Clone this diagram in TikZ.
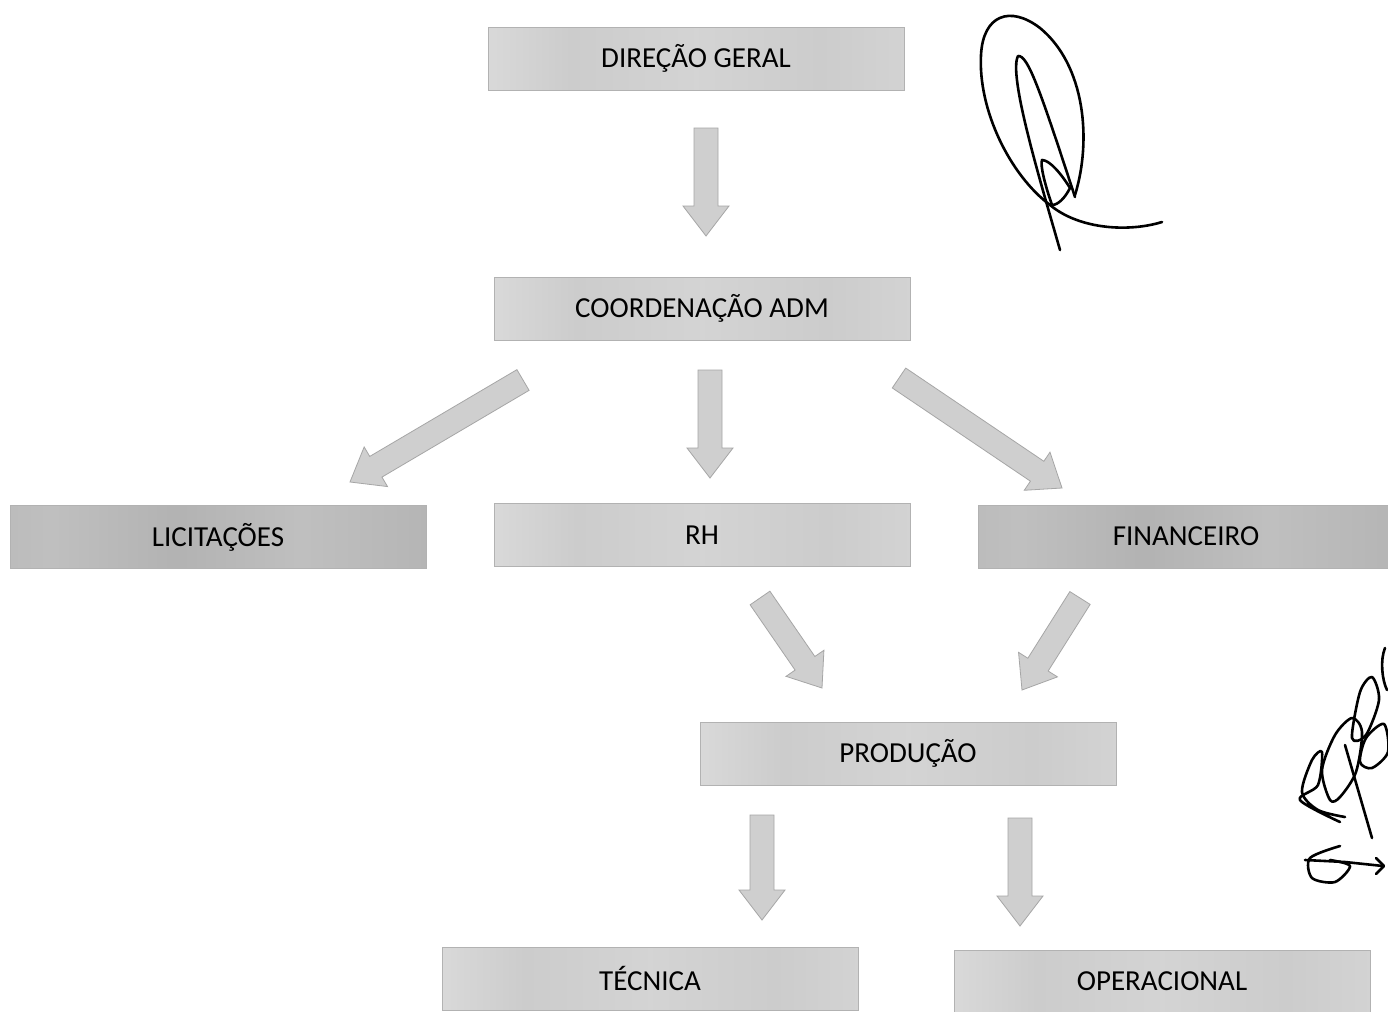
\documentclass[tikz,border=0pt]{standalone}
\usepackage{fontspec}
\setmainfont{Carlito}
\usetikzlibrary{calc}
\pgfdeclarehorizontalshading{boxlight}{100bp}{color(0bp)=(black!22); color(12bp)=(black!19); color(25bp)=(black!15); color(35bp)=(black!20); color(50bp)=(black!17); color(65bp)=(black!20); color(80bp)=(black!16); color(100bp)=(black!19)}
\pgfdeclarehorizontalshading{boxdark}{100bp}{color(0bp)=(black!33); color(15bp)=(black!29); color(30bp)=(black!25); color(45bp)=(black!30); color(60bp)=(black!25); color(75bp)=(black!29); color(90bp)=(black!26); color(100bp)=(black!30)}
\tikzset{
  orgbox/.style={draw=black!30, line width=0.4pt, shading=boxlight, minimum width=208pt, minimum height=31.5pt, inner sep=0pt, font=\fontsize{14.5}{16}\selectfont},
  orgdark/.style={orgbox, shading=boxdark},
  blk/.style={draw=black!35, fill=black!19, line width=0.4pt},
  sig/.style={line width=1.3pt, line cap=round, line join=round}
}
\newcommand\blkarrow[2]{%
  \coordinate (hb) at ($(#2)!15pt!(#1)$);
  \path[blk] ($(#1)!6pt!90:(#2)$) -- ($(hb)!6pt!90:(#2)$) -- ($(hb)!11.5pt!90:(#2)$) -- (#2)
    -- ($(hb)!11.5pt!-90:(#2)$) -- ($(hb)!6pt!-90:(#2)$) -- ($(#1)!6pt!-90:(#2)$) -- cycle;}
\begin{document}
\begin{tikzpicture}[x=0.5pt,y=-0.5pt]
\useasboundingbox[fill=white] (0,0) rectangle (1388,1012);
% boxes
\node[orgbox]  (dg)   at (696,58.5)  {DIREÇÃO GERAL};
\node[orgbox]  (ca)   at (702,308.5) {COORDENAÇÃO ADM};
\node[orgdark] (lic)  at (218,537)   {LICITAÇÕES};
\node[orgbox]  (rh)   at (702,535)   {RH};
\node[orgdark] (fin)  at (1186,536.5){FINANCEIRO};
\node[orgbox]  (prod) at (908,753.5) {PRODUÇÃO};
\node[orgbox]  (tec)  at (650,978.5) {TÉCNICA};
\node[orgbox]  (oper) at (1162,981.5){OPERACIONAL};
% arrow end points
\coordinate (a1s) at (706,128);  \coordinate (a1e) at (706,236);
\coordinate (a2s) at (523,380);  \coordinate (a2e) at (350,482);
\coordinate (a3s) at (710,370);  \coordinate (a3e) at (710,478);
\coordinate (a4s) at (899,378);  \coordinate (a4e) at (1062,488);
\coordinate (a5s) at (760,598);  \coordinate (a5e) at (822,688);
\coordinate (a6s) at (1080,598); \coordinate (a6e) at (1022,690);
\coordinate (a7s) at (762,815);  \coordinate (a7e) at (762,920);
\coordinate (a8s) at (1020,818); \coordinate (a8e) at (1020,926);
\blkarrow{a1s}{a1e}
\blkarrow{a2s}{a2e}
\blkarrow{a3s}{a3e}
\blkarrow{a4s}{a4e}
\blkarrow{a5s}{a5e}
\blkarrow{a6s}{a6e}
\blkarrow{a7s}{a7e}
\blkarrow{a8s}{a8e}
% signature 1
\draw[sig] (1075,195) .. controls (1092,140) and (1085,65) .. (1040,28)
  .. controls (1010,5) and (983,15) .. (981,55)
  .. controls (978,110) and (1010,175) .. (1050,205)
  .. controls (1080,230) and (1130,232) .. (1162,222);
\draw[sig] (1060,250) .. controls (1040,180) and (1008,75) .. (1018,56)
  .. controls (1028,55) and (1040,90) .. (1075,197);
\draw[sig] (1052,205) .. controls (1045,185) and (1040,165) .. (1042,160)
  .. controls (1050,160) and (1062,175) .. (1070,188)
  .. controls (1065,198) and (1058,205) .. (1052,205);
% signature 2
\draw[sig] (1385,648) .. controls (1380,660) and (1382,680) .. (1387,690);
\draw[sig] plot[smooth cycle] coordinates {(1352,738) (1360,692) (1372,677) (1379,700) (1366,735)};
\draw[sig] plot[smooth cycle] coordinates {(1330,800) (1322,770) (1335,735) (1352,718) (1362,732) (1356,772) (1340,797)};
\draw[sig] plot[smooth] coordinates {(1345,817) (1318,810) (1302,792) (1312,760) (1322,752) (1318,785) (1300,800) (1340,822)};
\draw[sig] plot[smooth cycle] coordinates {(1360,762) (1366,738) (1384,724) (1388,752) (1372,768)};
\draw[sig] (1345,745) -- (1372,838);
\draw[sig] plot[smooth] coordinates {(1340,846) (1310,858) (1312,878) (1335,882) (1350,866) (1330,860)};
\draw[sig] (1305,860) -- (1345,862) -- (1383,866);
\draw[sig] (1376,858) -- (1384,866) -- (1376,874);
\end{tikzpicture}
\end{document}
